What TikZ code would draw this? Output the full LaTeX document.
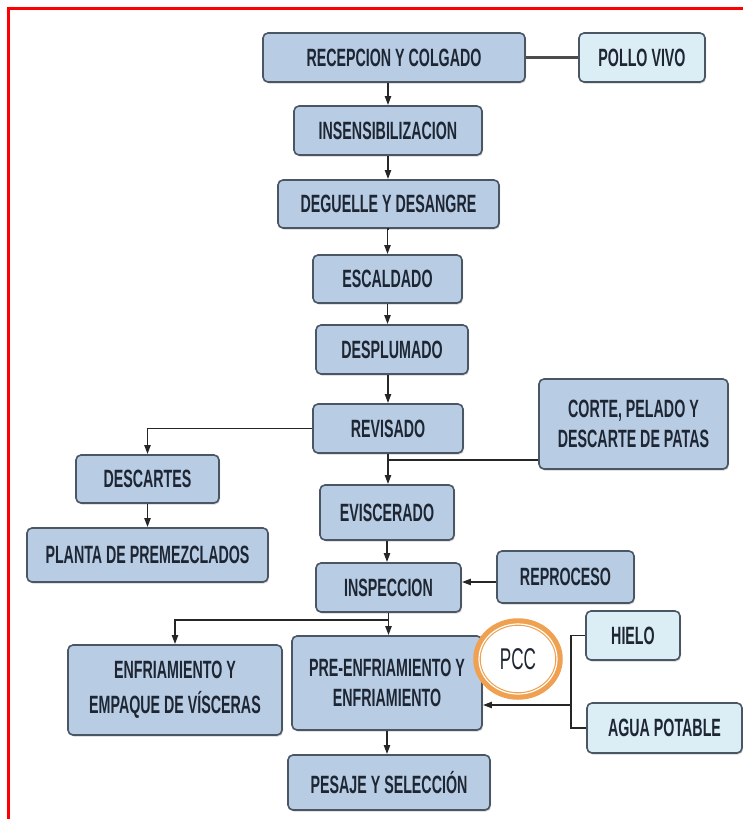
\documentclass[tikz,border=0pt]{standalone}
\usepackage{fontspec}
\setmainfont{Liberation Sans}[FakeStretch=0.57]
\usetikzlibrary{arrows.meta,shapes.geometric,shadows}
\definecolor{boxblue}{HTML}{B8CCE4}
\definecolor{boxlight}{HTML}{DCEEF5}
\definecolor{edge}{HTML}{4A5663}
\definecolor{txt}{HTML}{1E2633}
\definecolor{pccorange}{HTML}{EFA050}
\begin{document}
\begin{tikzpicture}[x=1pt,y=-1pt,
  proc/.style={draw=edge,line width=1.6pt,rounded corners=5pt,fill=boxblue,
    text=txt,font=\fontsize{25}{30}\selectfont\bfseries,align=center,inner sep=0pt,
    drop shadow={shadow xshift=1pt,shadow yshift=-1.5pt,opacity=0.35}},
  inp/.style={proc,fill=boxlight},
  conn/.style={line width=1.9pt,draw=black!85},
  arr/.style={conn,-{Triangle[length=9pt,width=6pt]}}]
\useasboundingbox (0,0) rectangle (743,819);
\fill[white] (0,0) rectangle (743,819);
\draw[red,line width=3pt] (8,819) -- (8,8) -- (743,8);

\node[proc,minimum width=262,minimum height=49] (rec) at (394,57.5) {RECEPCION Y COLGADO};
\node[inp,minimum width=126,minimum height=49] (pollo) at (642,57.5) {POLLO VIVO};
\node[proc,minimum width=188,minimum height=49] (ins) at (388,130.5) {INSENSIBILIZACION};
\node[proc,minimum width=221,minimum height=48] (deg) at (388.5,204) {DEGUELLE Y DESANGRE};
\node[proc,minimum width=149,minimum height=48] (esc) at (387.5,279) {ESCALDADO};
\node[proc,minimum width=152,minimum height=49] (des) at (392,349.5) {DESPLUMADO};
\node[proc,minimum width=150,minimum height=49] (rev) at (388,428.5) {REVISADO};
\node[proc,minimum width=189,minimum height=90] (corte) at (633.5,424) {CORTE, PELADO Y\\DESCARTE DE PATAS};
\node[proc,minimum width=143,minimum height=48] (descartes) at (147.5,479) {DESCARTES};
\node[proc,minimum width=241,minimum height=54] (planta) at (147.5,555) {PLANTA DE PREMEZCLADOS};
\node[proc,minimum width=134,minimum height=55] (evis) at (387,512.5) {EVISCERADO};
\node[proc,minimum width=145,minimum height=49] (insp) at (388.5,587.5) {INSPECCION};
\node[proc,minimum width=137,minimum height=52] (repro) at (565.5,577) {REPROCESO};
\node[proc,minimum width=214,minimum height=90,font=\fontsize{25}{35}\selectfont\bfseries] (enfv) at (175,690) {ENFRIAMIENTO Y\\EMPAQUE DE VÍSCERAS};
\node[proc,minimum width=190,minimum height=94] (pre) at (387,683) {PRE-ENFRIAMIENTO Y\\ENFRIAMIENTO};
\node[inp,minimum width=94,minimum height=49] (hielo) at (633,635.5) {HIELO};
\node[inp,minimum width=155,minimum height=50] (agua) at (664.5,728) {AGUA POTABLE};
\node[proc,minimum width=202,minimum height=55] (pesaje) at (389,782.5) {PESAJE Y SELECCIÓN};
\fill[white] (518,659) ellipse (41 and 37);
\draw[pccorange,line width=7.5pt] (518,659) ellipse (41 and 37);
\draw[white,line width=1.2pt] (518,659) ellipse (39 and 35);
\node[ellipse,minimum width=76,minimum height=66,inner sep=0pt,
  text=txt,font=\fontsize{30}{32}\selectfont] (pcc) at (518,659) {PCC};

\coordinate (j1) at (388,460);
\coordinate (j2) at (388,620);
\coordinate (bx) at (571,705);

\draw[conn,line width=2.4pt,draw=black!70] (rec.east) -- (pollo.west);
\draw[arr] (ins.north |- rec.south) -- (ins.north);
\draw[arr] (ins.south) -- (ins.south |- deg.north);
\draw[arr] (deg.south) -- (deg.south -| esc.north) -- (esc.north);
\draw[arr] (esc.south) -- (esc.south |- des.north);
\draw[arr] (rev.north |- des.south) -- (rev.north);
\draw[arr] (rev.south) -- (rev.south |- evis.north);
\draw[conn] (j1) -- (j1 -| corte.west);
\draw[arr] (rev.west) -| (descartes.north);
\draw[arr] (descartes.south) -- (planta.north);
\draw[arr] (evis.south) -- (evis.south |- insp.north);
\draw[arr] (repro.west) ++(0,5) coordinate (rw) -- (insp.east |- rw);
\draw[arr] (insp.south) -- (insp.south |- pre.north);
\draw[arr] (j2) -| (enfv.north);
\draw[conn] (hielo.west) -- (hielo.west -| bx) -- (agua.west -| bx) -- (agua.west);
\draw[arr] (bx) -- (pre.east |- bx);
\draw[arr] (pre.south) -- (pre.south |- pesaje.north);
\end{tikzpicture}
\end{document}
